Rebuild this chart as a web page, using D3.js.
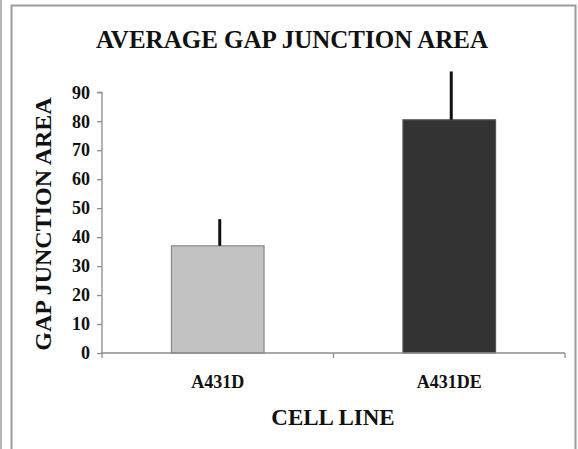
<!DOCTYPE html>
<html><head><meta charset="utf-8">
<script src="https://cdn.jsdelivr.net/npm/d3@7"></script>
<style>
html,body{margin:0;padding:0;background:#fff;}
svg text{font-family:"Liberation Serif","Times New Roman","DejaVu Serif",serif !important;font-weight:bold;}
</style></head>
<body>
<script>
const categories = ["A431D", "A431DE"];
const values = [37, 80.5];
const errors = [9.2, 16.7];
const yTicks = [0, 10, 20, 30, 40, 50, 60, 70, 80, 90];
const barColors = ["#c2c2c2", "#333333"];
const titleText = "AVERAGE GAP JUNCTION AREA";
const yTitle = "GAP JUNCTION AREA";
const xTitle = "CELL LINE";

const W = 578, H = 449;
const svg = d3.select("body").append("svg").attr("width", W).attr("height", H);
const SERIF = "'Liberation Serif','Times New Roman','DejaVu Serif',serif";

// frame
svg.append("rect").attr("x", 0).attr("y", 0).attr("width", 2).attr("height", H).attr("fill", "#b5b5b5");
svg.append("path").attr("d", `M11.5,${H}V5.5H575.5V${H}`).attr("fill", "none").attr("stroke", "#9a9a9a").attr("stroke-width", 2);

const x0 = 102, x1 = 565, yTop = 92.3, yBot = 353;
const x = d3.scaleBand().domain(categories).range([x0, x1]).paddingInner(0.6).paddingOuter(0.3);
const y = d3.scaleLinear().domain([0, 90]).range([yBot, yTop]);

// y axis
const ya = svg.append("g").attr("transform", `translate(${x0},0)`)
  .call(d3.axisLeft(y).tickValues(yTicks).tickSize(5).tickPadding(7));
ya.attr("font-family", SERIF);
ya.selectAll("path,line").attr("stroke", "#8c8c8c").attr("stroke-width", 1.3);
ya.select(".domain").attr("d", `M-5,${yTop}H0V${yBot}`);
ya.selectAll("text").attr("font-family", SERIF).attr("font-weight", "bold").attr("font-size", 18).attr("fill", "#111");

// bars
svg.selectAll("rect.bar").data(categories).enter().append("rect").attr("class", "bar")
  .attr("x", d => x(d)).attr("width", x.bandwidth())
  .attr("y", (d, i) => y(values[i])).attr("height", (d, i) => yBot - y(values[i]))
  .attr("fill", (d, i) => barColors[i])
  .attr("stroke", (d, i) => i === 0 ? "#8a8a8a" : "#555").attr("stroke-width", 1.2);

// error bars
svg.selectAll("line.err").data(categories).enter().append("line").attr("class", "err")
  .attr("x1", d => x(d) + x.bandwidth() / 2 + 2).attr("x2", d => x(d) + x.bandwidth() / 2 + 2)
  .attr("y1", (d, i) => y(values[i])).attr("y2", (d, i) => y(values[i] + errors[i]))
  .attr("stroke", "#111").attr("stroke-width", 3);

// x axis
const xa = svg.append("g").attr("transform", `translate(0,${yBot})`)
  .call(d3.axisBottom(x).tickSize(0).tickPadding(22));
xa.attr("font-family", SERIF);
xa.select(".domain").attr("stroke", "#8c8c8c").attr("stroke-width", 1.3).attr("d", `M${x0},0H${x1}`);
xa.selectAll("text").attr("font-family", SERIF).attr("font-weight", "bold").attr("font-size", 18).attr("fill", "#111");
const seps = [x0, (x(categories[0]) + x.bandwidth() + x(categories[1])) / 2, x1];
xa.selectAll("line.sep").data(seps).enter().append("line").attr("class", "sep")
  .attr("x1", d => d).attr("x2", d => d).attr("y1", 0).attr("y2", 5)
  .attr("stroke", "#8c8c8c").attr("stroke-width", 1.3);

// titles
svg.append("text").attr("x", 292).attr("y", 48).attr("text-anchor", "middle").attr("font-family", SERIF)
  .attr("font-size", 25).attr("fill", "#111").text(titleText);
svg.append("text").attr("x", 333).attr("y", 425).attr("text-anchor", "middle").attr("font-family", SERIF)
  .attr("font-size", 23).attr("fill", "#111").text(xTitle);
svg.append("text").attr("transform", "translate(51,224) rotate(-90)").attr("text-anchor", "middle").attr("font-family", SERIF)
  .attr("font-size", 24).attr("fill", "#111").text(yTitle);
</script>
</body></html>
